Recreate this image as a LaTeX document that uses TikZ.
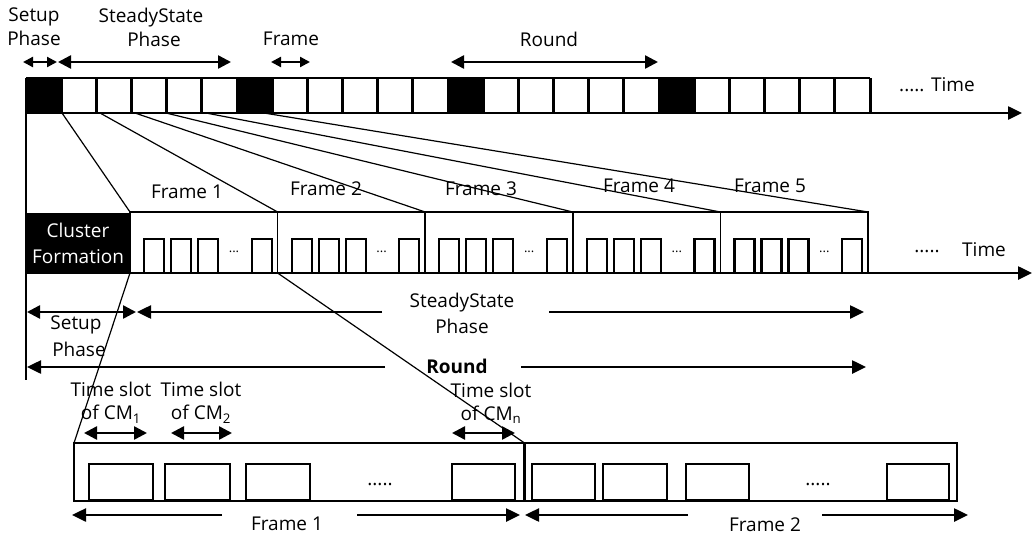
\documentclass[tikz,border=0pt]{standalone}
\usepackage{fontspec}
\setmainfont{Open Sans}
\usetikzlibrary{arrows.meta}
\begin{document}
\begin{tikzpicture}[x=1pt,y=-1pt,
  lbl/.style={font=\fontsize{19}{24}\selectfont, align=center, inner sep=0pt},
  dots/.style={font=\fontsize{13}{18}\selectfont, inner sep=0pt},
  axis/.style={line width=2.5pt, -{Triangle[length=14pt,width=13pt]}},
  onearr/.style={line width=2.5pt, -{Triangle[length=14pt,width=13pt]}},
  twoarr/.style={line width=2.5pt, {Triangle[length=13pt,width=13pt]}-{Triangle[length=13pt,width=13pt]}},
  smallarr/.style={line width=2.2pt, {Triangle[length=10pt,width=10pt]}-{Triangle[length=10pt,width=10pt]}},
  proj/.style={line width=1.2pt},
  framebox/.style={draw, line width=1.5pt},
  slotbox/.style={draw, line width=2.2pt},
  bslot/.style={draw, line width=2.5pt}]
\useasboundingbox (0,0) rectangle (1033,538);

% ---------- top bar ----------
\foreach \i in {0,...,23} {
  \pgfmathsetmacro\xa{26+35.1667*\i}
  \pgfmathsetmacro\xb{26+35.1667*(\i+1)}
  \pgfmathtruncatemacro\m{mod(\i,6)}
  \ifnum\m=0
    \fill[black] (\xa,78) rectangle (\xb,113);
  \fi
  \draw[line width=3pt] (\xa,78) -- (\xa,113);
}
\draw[line width=3pt] (870,78) -- (870,113);
\draw[line width=1.5pt] (26,78) -- (870,78);
\coordinate (ta) at (26,113);
\coordinate (te) at (1022,113);
\draw[axis] (ta) -- (te);
\node[lbl, anchor=west] (ttime) at (899,85) {..... Time};

% top labels and arrows
\node[lbl] (tsetup) at (34,27) {Setup\\Phase};
\node[lbl] (tsteady) at (151,27) {SteadyState\\\hspace*{6pt}Phase};
\node[lbl] (tframe) at (291,39) {Frame};
\node[lbl] (tround) at (549,39) {Round};
\coordinate (a1) at (23,62); \coordinate (a2) at (57,62);
\coordinate (a3) at (58,62); \coordinate (a4) at (231,62);
\coordinate (a5) at (271,62); \coordinate (a6) at (310,62);
\coordinate (a7) at (451,62); \coordinate (a8) at (658,62);
\draw[smallarr] (a1) -- (a2);
\draw[twoarr] (a3) -- (a4);
\draw[smallarr] (a5) -- (a6);
\draw[twoarr] (a7) -- (a8);

% left vertical line
\coordinate (v1) at (26,113); \coordinate (v2) at (26,380);
\draw[line width=1.5pt] (v1) -- (v2);

% ---------- middle timeline ----------
\node[fill=black, text=white, minimum width=104pt, minimum height=61pt, inner sep=0pt,
  font=\fontsize{19}{26}\selectfont, align=center] (cf) at (78,243) {Cluster\\Formation};
\foreach \k in {0,...,4} {
  \pgfmathsetmacro\xs{130+147.6*\k}
  \pgfmathsetmacro\xe{130+147.6*(\k+1)}
  \draw[framebox] (\xs,212) rectangle (\xe,273);
  \foreach \j in {0,1,2} {
    \draw[slotbox] ({\xs+14+27*\j},273) -- ({\xs+14+27*\j},239) -- ({\xs+34+27*\j},239) -- ({\xs+34+27*\j},273);
  }
  \draw[slotbox] ({\xe-26},273) -- ({\xe-26},239) -- ({\xe-6},239) -- ({\xe-6},273);
  \node[dots] at ({\xs+104},252) {...};
}
\coordinate (f0) at (130,212);
\coordinate (f1) at (277.6,212);
\coordinate (f2) at (425.2,212);
\coordinate (f3) at (572.8,212);
\coordinate (f4) at (720.4,212);
\coordinate (f5) at (868,212);
\coordinate (ma) at (26,273);
\coordinate (me) at (1032,273);
\draw[axis] (ma) -- (me);
\node[lbl] (mdots) at (927,252) {.....};
\node[lbl] (mtime) at (984,250) {Time};

\node[lbl] (fr1) at (187,192) {Frame 1};
\node[lbl] (fr2) at (326,189) {Frame 2};
\node[lbl] (fr3) at (481,189) {Frame 3};
\node[lbl] (fr4) at (639,186) {Frame 4};
\node[lbl] (fr5) at (770,186) {Frame 5};

% projection lines top -> middle
\coordinate (t1) at (62,113);
\coordinate (t2) at (100,113);
\coordinate (t3) at (135,113);
\coordinate (t4) at (166,113);
\coordinate (t5) at (206,113);
\coordinate (t6) at (264,113);
\draw[proj] (t1) -- (f0);
\draw[proj] (t2) -- (f1);
\draw[proj] (t3) -- (f2);
\draw[proj] (t4) -- (f3);
\draw[proj] (t5) -- (f4);
\draw[proj] (t6) -- (f5);

% middle arrows
\coordinate (s1) at (27,312); \coordinate (s2) at (136,312);
\draw[twoarr] (s1) -- (s2);
\coordinate (s3) at (382,312); \coordinate (s4) at (137,312);
\coordinate (s5) at (549,312); \coordinate (s6) at (864,312);
\draw[onearr] (s3) -- (s4);
\draw[onearr] (s5) -- (s6);
\node[font=\fontsize{19}{26}\selectfont, align=center, inner sep=0pt] (msteady) at (462,313) {SteadyState\\Phase};
\node[font=\fontsize{19}{27}\selectfont, align=center, inner sep=0pt] (msetup) at (76,336) {Setup\\\hspace*{6pt}Phase};
\coordinate (r1) at (385,367); \coordinate (r2) at (27,367);
\coordinate (r3) at (521,367); \coordinate (r4) at (866,367);
\draw[onearr] (r1) -- (r2);
\draw[onearr] (r3) -- (r4);
\node[lbl, font=\fontsize{19}{24}\bfseries] (mround) at (457,366) {Round};

% ---------- bottom ----------
\draw[line width=1.5pt] (74,443) rectangle (957,501);
\coordinate (b0) at (74,443);
\coordinate (b1) at (524.5,443);
\draw[line width=3.5pt] (b1) -- (524.5,501);
\foreach \a/\b in {89/153,165/230,246/310,452/515,532/595,603/667,686/749,887/949} {
  \draw[bslot] (\a,464) rectangle (\b,500);
}
\node[lbl] (bd1) at (380,485) {.....};
\node[lbl] (bd2) at (818,485) {.....};

% projection lines middle -> bottom
\coordinate (m1) at (130,273);
\coordinate (m2) at (277.6,273);
\draw[proj] (m1) -- (b0);
\draw[proj] (m2) -- (b1);

% time slot labels
\node[font=\fontsize{19}{23}\selectfont, align=center, inner sep=0pt] (ts1) at (111,403) {Time slot\\of CM\textsubscript{1}};
\node[font=\fontsize{19}{23}\selectfont, align=center, inner sep=0pt] (ts2) at (201,403) {Time slot\\of CM\textsubscript{2}};
\node[font=\fontsize{19}{23}\selectfont, align=center, inner sep=0pt] (ts3) at (491,403) {Time slot\\of CM\textsubscript{n}};
\coordinate (c1) at (84,433); \coordinate (c2) at (147,433);
\coordinate (c3) at (171,433); \coordinate (c4) at (232,433);
\coordinate (c5) at (452,433); \coordinate (c6) at (515,433);
\draw[twoarr] (c1) -- (c2);
\draw[twoarr] (c3) -- (c4);
\draw[twoarr] (c5) -- (c6);

% bottom frame arrows
\coordinate (g1) at (222,515); \coordinate (g2) at (72,515);
\coordinate (g3) at (357,515); \coordinate (g4) at (520,515);
\coordinate (g5) at (688,515); \coordinate (g6) at (525,515);
\coordinate (g7) at (822,515); \coordinate (g8) at (968,515);
\draw[onearr] (g1) -- (g2);
\draw[onearr] (g3) -- (g4);
\draw[onearr] (g5) -- (g6);
\draw[onearr] (g7) -- (g8);
\node[lbl] (bf1) at (287,524) {Frame 1};
\node[lbl] (bf2) at (765,525) {Frame 2};
\end{tikzpicture}
\end{document}
